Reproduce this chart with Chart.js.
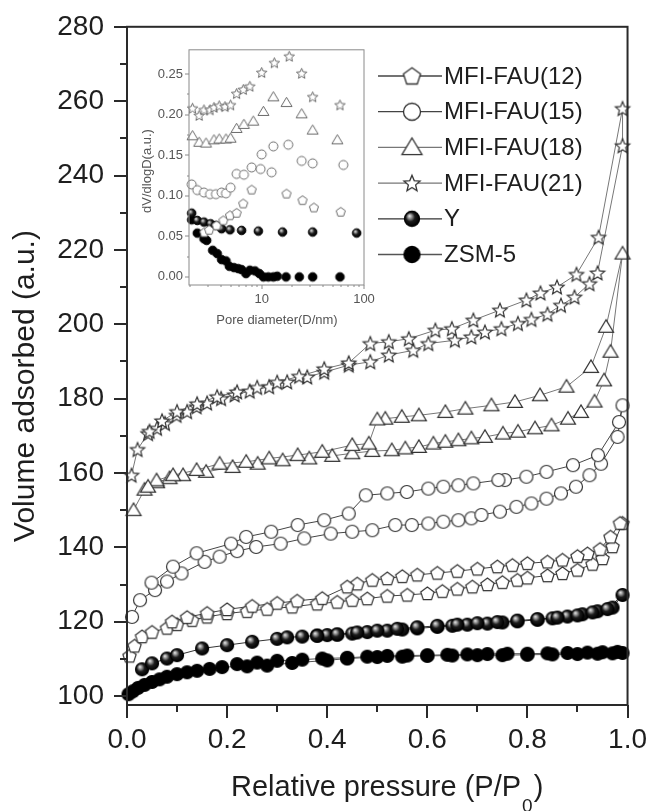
<!DOCTYPE html>
<html lang="en">
<head>
<meta charset="UTF-8">
<title>N2 adsorption isotherms</title>
<script src="https://cdn.jsdelivr.net/npm/chart.js"></script>
<style>
  body { margin: 0; background: #fff; }
  #wrap { position: relative; width: 652px; height: 811px; }
  #mainChart { position: absolute; left: 0; top: 0; }
  #insetChart { position: absolute; left: 130px; top: 40px; }
</style>
</head>
<body>
<div id="wrap">
  <canvas id="mainChart" width="652" height="811"></canvas>
  <canvas id="insetChart" width="250" height="300"></canvas>
</div>
<script>
  // ---- labels ----
  const seriesLabels = ['MFI-FAU(12)', 'MFI-FAU(15)', 'MFI-FAU(18)', 'MFI-FAU(21)', 'Y', 'ZSM-5'];

  // ---- main plot ticks ----
  const xTicks = [0, 0.2, 0.4, 0.6, 0.8, 1.0];
  const xMinorTicks = [0.1, 0.3, 0.5, 0.7, 0.9];
  const yTicks = [100, 120, 140, 160, 180, 200, 220, 240, 260, 280];
  const yMinorTicks = [110, 130, 150, 170, 190, 210, 230, 250, 270];

  // ---- isotherms: relative pressure / volume, adsorption then desorption ----
  const p12Ads = [0.005,0.015,0.03,0.05,0.08,0.1,0.13,0.16,0.2,0.24,0.28,0.33,0.38,0.42,0.45,0.48,0.52,0.56,0.6,0.63,0.66,0.69,0.72,0.75,0.78,0.8,0.84,0.87,0.9,0.93,0.95,0.97,0.99];
  const v12Ads = [110.8,113.5,116,117.2,118.3,119.3,120.4,121.3,122.2,122.8,123.4,124,124.8,125.3,125.8,126.2,126.9,127.2,127.6,128.2,128.8,129.4,130,130.6,131.2,131.8,132.4,133,133.9,135.5,137,140.2,146.5];
  const p12Des = [0.985,0.966,0.945,0.92,0.9,0.87,0.84,0.8,0.77,0.74,0.7,0.66,0.62,0.58,0.55,0.52,0.49,0.46,0.44,0.39,0.34,0.3,0.25,0.2,0.16,0.12,0.09];
  const v12Des = [146.5,142.8,139.5,138.3,137.6,136.6,136.1,135.7,135.2,134.8,134.2,133.6,133.1,132.6,132.2,131.6,131.2,130.2,129.4,126.3,125.6,125,124.2,123.3,122.3,121.2,120];

  const p15Ads = [0.01,0.026,0.056,0.08,0.109,0.155,0.185,0.22,0.258,0.307,0.354,0.407,0.45,0.49,0.536,0.569,0.602,0.632,0.662,0.688,0.708,0.745,0.778,0.808,0.838,0.867,0.897,0.924,0.947,0.98];
  const v15Ads = [121.3,125.8,128.5,130.8,133,136.1,137.5,139,140.1,141,142.4,143.7,144.2,144.6,146,146,146.4,146.9,147.3,147.8,148.7,149.6,150.9,151.8,153.1,154.5,156.3,159.4,162.5,169.7];
  const p15Des = [0.99,0.983,0.941,0.891,0.838,0.798,0.755,0.742,0.692,0.662,0.632,0.602,0.559,0.52,0.477,0.443,0.394,0.341,0.288,0.238,0.208,0.139,0.092,0.049];
  const v15Des = [178.2,173.7,164.8,162.1,160.3,159,158.1,158.1,157.2,156.7,156.3,155.8,154.9,154.5,154,149.1,147.3,146,144.2,142.8,141,138.4,134.8,130.5];

  const p18Ads = [0.013,0.035,0.06,0.085,0.112,0.158,0.211,0.261,0.311,0.364,0.41,0.45,0.49,0.529,0.556,0.583,0.612,0.636,0.662,0.688,0.715,0.751,0.781,0.815,0.848,0.881,0.907,0.934,0.953,0.966,0.99];
  const v18Ads = [150,155.5,157.5,158.6,159.4,160.3,161.6,162.5,163.4,163.9,164.6,165.3,165.9,166.1,166.6,167,167.9,168.4,168.8,169.3,169.7,170.6,171.1,172,172.8,174.6,176.4,179.2,184.9,192.6,219];
  const p18Des = [0.957,0.927,0.878,0.825,0.775,0.728,0.676,0.636,0.583,0.549,0.516,0.5,0.483,0.45,0.39,0.341,0.284,0.238,0.185,0.139,0.092,0.059,0.042];
  const v18Des = [199.3,188.5,183.2,180.9,179.1,178.2,177.3,176.4,175.5,175.1,174.6,174.4,167.9,167.5,165.7,164.8,163.9,163,162.5,160.8,159.4,158,156.3];

  const p21Ads = [0.009,0.021,0.042,0.06,0.076,0.099,0.12,0.139,0.16,0.188,0.215,0.245,0.284,0.32,0.36,0.394,0.443,0.486,0.523,0.572,0.602,0.655,0.688,0.715,0.748,0.781,0.808,0.84,0.867,0.894,0.924,0.94,0.99];
  const v21Ads = [159.4,166.3,170.6,172,173.3,175.5,176.5,177.8,178.8,180,181,182,183.2,184.5,185.8,187.1,189,189.9,191.7,193,194.8,195.7,196.6,197.9,198.8,200.2,201.3,202.7,205.1,207.3,210.9,213.8,248];
  const p21Des = [0.99,0.942,0.898,0.859,0.826,0.798,0.745,0.692,0.649,0.616,0.563,0.523,0.486,0.443,0.394,0.344,0.3,0.26,0.22,0.18,0.14,0.1,0.07,0.045];
  const v21Des = [258,223.4,213.4,210,208.4,206.5,203.8,201.1,198.8,198.4,196.1,195.3,194.8,189.6,188,186,184.4,183,181.8,180.5,178.6,176.5,174,171.2];

  const pYAds = [0.03,0.05,0.08,0.1,0.15,0.2,0.25,0.3,0.32,0.35,0.38,0.4,0.42,0.45,0.48,0.52,0.55,0.58,0.62,0.65,0.68,0.72,0.75,0.78,0.82,0.85,0.88,0.91,0.94,0.97,0.99];
  const vYAds = [107.2,108.8,110.1,111,112.8,113.7,114.6,115.4,115.8,116,116.3,116.4,116.5,116.8,117.2,117.6,117.9,118.2,118.6,118.9,119.2,119.5,119.8,120.1,120.5,120.9,121.4,122,122.8,123.8,127.2];
  const pYDes = [0.96,0.93,0.9,0.86,0.82,0.78,0.74,0.7,0.66,0.62,0.58,0.54,0.5,0.46,0.42,0.38];
  const vYDes = [123.4,122.5,121.7,121.1,120.7,120.3,119.9,119.6,119.2,118.9,118.5,118.1,117.6,117.1,116.6,116.2];

  const pZsmAds = [0.003,0.012,0.022,0.035,0.05,0.065,0.08,0.1,0.12,0.14,0.165,0.19,0.24,0.28,0.33,0.4,0.44,0.5,0.55,0.6,0.65,0.7,0.75,0.8,0.85,0.9,0.94,0.97,0.99];
  const vZsmAds = [100.5,101.3,102.2,103,103.8,104.5,105.2,105.9,106.4,106.8,107.3,107.8,108,108.2,108.9,109.6,110.1,110.5,110.6,110.8,110.9,111,111,111.1,111.2,111.3,111.4,111.5,111.6];
  const pZsmDes = [0.98,0.95,0.92,0.88,0.84,0.8,0.76,0.72,0.68,0.64,0.6,0.56,0.52,0.48,0.44,0.39,0.35,0.3,0.26,0.22];
  const vZsmDes = [111.9,111.8,111.7,111.6,111.5,111.4,111.4,111.3,111.2,111.1,111,110.9,110.8,110.6,110.3,110.1,109.8,109.5,109,108.6];

  // ---- inset: pore size distribution (D in nm, dV/dlogD) ----
  const insetXTicks = [10, 100];
  const insetXMinorTicks = [2,3,4,5,6,7,8,9,20,30,40,50,60,70,80,90];
  const insetYTicks = [0, 0.05, 0.10, 0.15, 0.20, 0.25];
  const insetYMinorTicks = [0.025, 0.075, 0.125, 0.175, 0.225];

  const d12 = [2.75,3.07,3.63,4.22,4.9,5.7,6.6,7.98,17.5,25.1,32.4,59.2];
  const s12 = [0.055,0.058,0.0635,0.0697,0.076,0.079,0.0905,0.1076,0.1027,0.0946,0.0856,0.0803];
  const d15 = [2.07,2.35,2.73,3.13,3.57,4.06,4.48,4.97,5.69,6.71,7.98,9.77,10,12.5,13.0,18.2,24.6,31.5,62.8];
  const s15 = [0.114,0.107,0.104,0.102,0.102,0.104,0.103,0.110,0.127,0.126,0.135,0.133,0.151,0.129,0.161,0.163,0.143,0.140,0.138];
  const d18 = [2.11,2.45,2.86,3.42,3.85,4.48,4.97,5.69,6.71,8.28,10.4,13.0,17.5,24.6,31.5,54.9];
  const s18 = [0.174,0.166,0.165,0.169,0.170,0.170,0.171,0.183,0.188,0.192,0.204,0.222,0.215,0.201,0.181,0.169];
  const d21 = [2.11,2.45,2.73,3.13,3.42,3.85,4.38,4.97,5.69,6.61,7.67,10,13.3,18.6,24.6,31.5,58.2];
  const s21 = [0.208,0.199,0.206,0.206,0.209,0.211,0.210,0.212,0.226,0.231,0.235,0.252,0.264,0.272,0.251,0.222,0.212];
  const dY = [2.07,2.35,2.73,3.17,3.57,4.06,4.9,6.37,9.28,16,31.5,84.8];
  const sY = [0.0786,0.0696,0.0676,0.0655,0.0635,0.0594,0.0581,0.0573,0.0565,0.0553,0.0553,0.0541];
  const dZsm = [2.07,2.35,2.73,2.9,3.32,3.68,4.06,4.48,4.83,5.36,5.9,6.37,7.03,7.67,8.6,9.5,10.4,11.6,13,14.2,17.3,23.3,31.5,58.2];
  const sZsm = [0.0704,0.054,0.047,0.045,0.0328,0.0287,0.0213,0.0197,0.0131,0.0115,0.0102,0.009,0.0041,0.0082,0.0074,0.0041,0,0,0,0.0008,0,0,0,0];

  const FONT = "'Liberation Sans', Arial, sans-serif";
  Chart.defaults.font.family = FONT;

  function pts(xs, ys) {
    return xs.map((x, i) => ({ x: x, y: ys[i] }));
  }

  // marker images: the library has no pentagon, 5-point star or shaded ball
  function marker(shape, r, stroke, lw) {
    const c = document.createElement('canvas');
    const s = Math.ceil(r * 2 + lw * 2 + 2);
    c.width = s; c.height = s;
    const g = c.getContext('2d');
    const cx = s / 2, cy = s / 2;
    g.lineWidth = lw;
    g.strokeStyle = stroke;
    g.beginPath();
    if (shape === 'pentagon') {
      for (let k = 0; k < 5; k++) {
        const a = -Math.PI / 2 + k * 2 * Math.PI / 5;
        g.lineTo(cx + r * Math.cos(a), cy + r * Math.sin(a) + r * 0.08);
      }
    } else if (shape === 'triangle') {
      g.moveTo(cx, cy - r * 0.95);
      g.lineTo(cx + r, cy + r * 0.72);
      g.lineTo(cx - r, cy + r * 0.72);
    } else if (shape === 'star') {
      for (let k = 0; k < 10; k++) {
        const a = -Math.PI / 2 + k * Math.PI / 5;
        const rr = k % 2 ? r * 0.45 : r;
        g.lineTo(cx + rr * Math.cos(a), cy + rr * Math.sin(a) + r * 0.08);
      }
    } else {
      g.arc(cx, cy, r, 0, Math.PI * 2);
    }
    g.closePath();
    if (shape === 'ball') {
      const gr = g.createRadialGradient(cx - r * 0.35, cy - r * 0.4, 0, cx - r * 0.1, cy - r * 0.1, r * 1.1);
      gr.addColorStop(0, '#f2f2f2');
      gr.addColorStop(0.28, '#8a8a8a');
      gr.addColorStop(0.55, '#1c1c1c');
      gr.addColorStop(1, '#000');
      g.fillStyle = gr;
      g.strokeStyle = '#000';
    } else if (shape === 'dot') {
      g.fillStyle = '#000';
      g.strokeStyle = '#000';
    } else {
      g.fillStyle = '#fff';
    }
    g.fill();
    g.stroke();
    return c;
  }

  const shapes = ['pentagon', 'circle', 'triangle', 'star', 'ball', 'dot'];
  const mainSizes = [7, 6.5, 7.5, 7.5, 6.5, 6.5];
  const legendSizes = [9, 8.5, 10, 8.5, 7.5, 8];
  const insetSizes = [4.8, 4.5, 5.5, 5.5, 4.3, 4.3];
  const lineColors = ['#444', '#444', '#777', '#777', '#333', '#555'];

  const mainMarkers = shapes.map((s, i) => marker(s, mainSizes[i], '#333', 1.2));
  const legendMarkers = shapes.map((s, i) => marker(s, legendSizes[i], '#333', 1.3));
  const insetMarkers = shapes.map((s, i) => marker(s, insetSizes[i], '#6a6a6a', 1));

  // axis box + major/minor tick marks (the library has only one tick length)
  const frameTicks = {
    id: 'frameTicks',
    afterDraw(chart, args, o) {
      const { ctx, chartArea: a, scales } = chart;
      ctx.save();
      ctx.strokeStyle = o.color;
      ctx.lineWidth = o.width;
      ctx.beginPath();
      const tick = (vals, len, axis) => vals.forEach(v => {
        if (axis === 'x') {
          const px = Math.round(scales.x.getPixelForValue(v));
          ctx.moveTo(px, a.bottom); ctx.lineTo(px, a.bottom + len);
        } else {
          const py = Math.round(scales.y.getPixelForValue(v));
          ctx.moveTo(a.left, py); ctx.lineTo(a.left - len, py);
        }
      });
      tick(o.xMajor, o.major, 'x');
      tick(o.xMinor, o.minor, 'x');
      tick(o.yMajor, o.major, 'y');
      tick(o.yMinor, o.minor, 'y');
      ctx.stroke();
      ctx.strokeRect(a.left, a.top, a.right - a.left, a.bottom - a.top);
      ctx.restore();
    }
  };

  // main chart: axis titles and the line+marker legend
  const mainDecor = {
    id: 'mainDecor',
    afterDraw(chart) {
      const ctx = chart.ctx;
      ctx.save();
      ctx.fillStyle = '#1e1e1e';
      // y title
      ctx.translate(34, 386);
      ctx.rotate(-Math.PI / 2);
      ctx.font = '30px ' + FONT;
      ctx.textAlign = 'center';
      ctx.textBaseline = 'alphabetic';
      ctx.fillText('Volume adsorbed (a.u.)', 0, 0);
      ctx.setTransform(1, 0, 0, 1, 0, 0);
      // x title with subscript
      ctx.textAlign = 'left';
      ctx.font = '29px ' + FONT;
      const main = 'Relative pressure (P/P';
      let x = 231;
      ctx.fillText(main, x, 796);
      x += ctx.measureText(main).width + 1;
      ctx.font = '19px ' + FONT;
      ctx.fillText('0', x, 812);
      x += ctx.measureText('0').width + 1;
      ctx.font = '29px ' + FONT;
      ctx.fillText(')', x, 796);
      // legend
      ctx.font = '24px ' + FONT;
      ctx.textBaseline = 'middle';
      chart.data.datasets.forEach((ds, i) => {
        const y = 76 + 35.7 * i;
        ctx.strokeStyle = ds.borderColor;
        ctx.lineWidth = 1.3;
        ctx.beginPath();
        ctx.moveTo(378, y); ctx.lineTo(442, y);
        ctx.stroke();
        const m = legendMarkers[i];
        ctx.drawImage(m, 412 - m.width / 2, y - m.height / 2);
        ctx.fillStyle = '#1e1e1e';
        ctx.fillText(ds.label, 444, y + 1);
      });
      ctx.restore();
    }
  };

  const insetDecor = {
    id: 'insetDecor',
    afterDraw(chart) {
      const ctx = chart.ctx;
      ctx.save();
      ctx.fillStyle = '#555';
      ctx.font = '13px ' + FONT;
      ctx.textAlign = 'center';
      ctx.fillText('Pore diameter(D/nm)', 147, 284);
      ctx.translate(21, 131);
      ctx.rotate(-Math.PI / 2);
      ctx.fillText('dV/dlogD(a.u.)', 0, 0);
      ctx.restore();
    }
  };

  const mainSets = [
    [p12Ads, v12Ads, p12Des, v12Des],
    [p15Ads, v15Ads, p15Des, v15Des],
    [p18Ads, v18Ads, p18Des, v18Des],
    [p21Ads, v21Ads, p21Des, v21Des],
    [pYAds, vYAds, pYDes, vYDes],
    [pZsmAds, vZsmAds, pZsmDes, vZsmDes]
  ];

  new Chart(document.getElementById('mainChart'), {
    type: 'scatter',
    data: {
      datasets: mainSets.map((s, i) => ({
        label: seriesLabels[i],
        data: pts(s[0], s[1]).concat(pts(s[2], s[3])),
        showLine: true,
        borderColor: lineColors[i],
        borderWidth: 1,
        pointStyle: mainMarkers[i],
        clip: false
      }))
    },
    options: {
      responsive: false,
      animation: false,
      events: [],
      layout: { padding: { top: 25, right: 22, left: 0, bottom: 0 } },
      plugins: {
        legend: { display: false },
        tooltip: { enabled: false },
        frameTicks: {
          color: '#2a2a2a', width: 2, major: 13, minor: 7,
          xMajor: xTicks, xMinor: xMinorTicks, yMajor: yTicks, yMinor: yMinorTicks
        }
      },
      scales: {
        x: {
          type: 'linear', min: 0, max: 1,
          afterBuildTicks: s => { s.ticks = xTicks.map(v => ({ value: v })); },
          afterFit: s => { s.height = 106; },
          grid: { drawOnChartArea: false, drawTicks: true, tickLength: 13, tickColor: 'transparent' },
          border: { display: false },
          ticks: {
            padding: 5, color: '#1e1e1e', font: { size: 28 }, maxRotation: 0,
            callback: v => v.toFixed(1)
          }
        },
        y: {
          type: 'linear', min: 97.6, max: 280,
          afterBuildTicks: s => { s.ticks = yTicks.map(v => ({ value: v })); },
          afterFit: s => { s.width = 127; },
          grid: { drawOnChartArea: false, drawTicks: true, tickLength: 13, tickColor: 'transparent' },
          border: { display: false },
          ticks: {
            padding: 10, color: '#1e1e1e', font: { size: 28 },
            callback: v => String(v)
          }
        }
      }
    },
    plugins: [frameTicks, mainDecor]
  });

  const insetSets = [[d12, s12], [d15, s15], [d18, s18], [d21, s21], [dY, sY], [dZsm, sZsm]];

  new Chart(document.getElementById('insetChart'), {
    type: 'scatter',
    data: {
      datasets: insetSets.map((s, i) => ({
        label: seriesLabels[i],
        data: pts(s[0], s[1]),
        showLine: false,
        pointStyle: insetMarkers[i],
        clip: false
      }))
    },
    options: {
      responsive: false,
      animation: false,
      events: [],
      layout: { padding: { top: 9, right: 16, left: 0, bottom: 0 } },
      plugins: {
        legend: { display: false },
        tooltip: { enabled: false },
        frameTicks: {
          color: '#8a8a8a', width: 1, major: 4, minor: 2,
          xMajor: insetXTicks, xMinor: insetXMinorTicks, yMajor: insetYTicks, yMinor: insetYMinorTicks
        }
      },
      scales: {
        x: {
          type: 'logarithmic', min: 1.95, max: 100,
          afterBuildTicks: s => { s.ticks = insetXTicks.map(v => ({ value: v })); },
          afterFit: s => { s.height = 55; },
          grid: { drawOnChartArea: false, drawTicks: true, tickLength: 4, tickColor: 'transparent' },
          border: { display: false },
          ticks: { padding: 3, color: '#555', font: { size: 13 }, maxRotation: 0, callback: v => String(v) }
        },
        y: {
          type: 'linear', min: -0.01, max: 0.28,
          afterBuildTicks: s => { s.ticks = insetYTicks.map(v => ({ value: v })); },
          afterFit: s => { s.width = 59; },
          grid: { drawOnChartArea: false, drawTicks: true, tickLength: 4, tickColor: 'transparent' },
          border: { display: false },
          ticks: { padding: 2, color: '#555', font: { size: 13 }, callback: v => v.toFixed(2) }
        }
      }
    },
    plugins: [frameTicks, insetDecor]
  });
</script>
</body>
</html>
